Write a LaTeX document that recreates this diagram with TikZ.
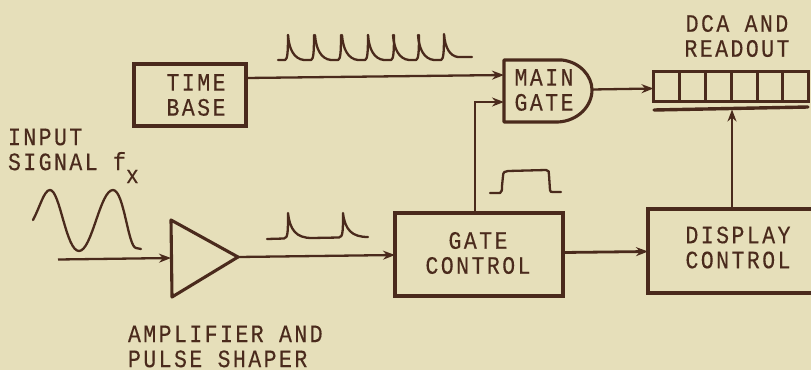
\documentclass[tikz,border=0pt]{standalone}
\usepackage{fontspec}
\setmonofont[FakeStretch=0.86,LetterSpace=9.8,FakeBold=0.3]{Liberation Mono}
\usetikzlibrary{arrows.meta}
\definecolor{paper}{HTML}{E6DFBA}
\definecolor{ink}{HTML}{4A2A1C}
\tikzset{
  x=1pt,y=-1pt,
  lab/.style={inner sep=0pt,outer sep=0pt,align=center,text=ink,font=\fontsize{25}{25}\selectfont\ttfamily},
  blockbox/.style={draw=ink,line width=3.1pt,rectangle,inner sep=0pt,outer sep=0pt,line join=miter,lab},
  shapeline/.style={draw=ink,line width=3.1pt,line join=round},
  conn/.style={draw=ink,line width=2.3pt,-{Stealth[length=12pt,width=9pt]}},
  wave/.style={draw=ink,line width=2.3pt,line cap=round,line join=round},
}
\begin{document}
\begin{tikzpicture}
\useasboundingbox (0,0) rectangle (811,370);
\fill[paper] (0,0) rectangle (811,370);
\clip (0,0) rectangle (811,370);

% blocks
\node[blockbox,minimum width=112pt,minimum height=62pt] (timebase) at (190,95) {\hspace*{12pt}TIME\\\hspace*{12pt}BASE};
\node[blockbox,minimum width=168pt,minimum height=83pt] (gatectl) at (479,254.5) {};
\node[lab] (gatelab) at (478,253) {GATE\\CONTROL};
\node[blockbox,minimum width=180pt,minimum height=84pt] (dispctl) at (738,251) {};
\node[lab] (displab) at (738,247.5) {DISPLAY\\CONTROL};

% amplifier
\coordinate (ampA) at (171,220);
\coordinate (ampB) at (172,297);
\coordinate (ampT) at (238,257);
\draw[shapeline] (ampA) -- (ampT) -- (ampB) -- cycle;

% main gate
\coordinate (mgTL) at (504,60);
\coordinate (mgBL) at (504,122);
\coordinate (mgTip) at (592,90);
\coordinate (mgIn1) at (504,75);
\coordinate (mgIn2) at (504,102);
\draw[shapeline] (mgTL) -- (562,60) .. controls (580,62) and (592,76) .. (mgTip)
  .. controls (592,106) and (578,121) .. (558,122) -- (mgBL) -- cycle;
\node[lab] (maingate) at (544,90) {MAIN\\GATE};

% readout
\node[blockbox,minimum width=155pt,minimum height=30pt] (readout) at (731,86.5) {};
\foreach \dx in {679,705,731,757,782}
  \draw[ink,line width=3pt] (\dx,72) -- (\dx,101);
\coordinate (barL) at (654,110);
\coordinate (barR) at (808,107);
\draw[ink,line width=3.4pt,line cap=round] (barL) -- (barR);
\coordinate (barIn) at (732,109.5);

% connectors
\coordinate (inStart) at (58,259.5);
\coordinate (ampIn) at (171,258);
\draw[conn] (inStart) -- (ampIn);
\draw[conn] (ampT) -- (gatectl.west |- 0,255);
\draw[conn] (timebase.east |- 0,78) -- (mgIn1);
\coordinate (gCorner) at (475,102);
\draw[conn] (gatectl.north -| gCorner) -- (gCorner) -- (mgIn2);
\draw[conn,line width=2.8pt] (gatectl.east |- 0,252.5) -- (dispctl.west |- 0,251.5);
\draw[conn] (dispctl.north -| barIn) -- (barIn);
\draw[conn] (592,89.5) -- (readout.west |- 0,88.5);

% waveforms
\draw[wave] (33,220) .. controls (40,207) and (44,190) .. (50,190)
  .. controls (60,190) and (66,251) .. (79,251)
  .. controls (92,251) and (100,190) .. (113,190)
  .. controls (124,190) and (128,247) .. (136,248) -- (141,249);
\draw[wave] (267,239) -- (284,238.5) .. controls (288,238) and (288,232) .. (288,213)
  .. controls (290,230) and (296,238) .. (312,238) -- (339,237.5)
  .. controls (343,237) and (343,231) .. (343,213)
  .. controls (345,230) and (352,237) .. (368,237);
\foreach \s in {288,315,342,368,393,418}
  \draw[wave] ({\s},35) .. controls ({\s+1},49) and ({\s+6},59) .. ({\s+16},60) -- ({\s+23},60)
    .. controls ({\s+25.5},59.5) and ({\s+26},52) .. ({\s+26},35);
\draw[wave] (278,60) -- (285,60) .. controls (287.5,59.5) and (288,52) .. (288,35);
\draw[wave] (444,34) .. controls (445,48) and (450,56) .. (458,57) -- (472,57);
\draw[wave] (490,193) -- (500,193) .. controls (502,192) and (502,190) .. (502,186)
  -- (503,176) .. controls (503,172) and (505,171) .. (508,171) -- (546,170)
  .. controls (549,170) and (549,172) .. (549,175) -- (550,190)
  .. controls (550,192) and (551,192) .. (553,192) -- (561,192);

% labels
\node[lab,align=left,anchor=west] (inputlab) at (8,149.5) {INPUT\\SIGNAL f\smash{\raisebox{-13pt}{x}}};
\node[lab,align=left,anchor=west] (ampshape) at (128,346.5) {AMPLIFIER AND\\PULSE SHAPER};
\node[lab] (dcalab) at (737,36) {DCA AND\\READOUT};
\end{tikzpicture}
\end{document}
